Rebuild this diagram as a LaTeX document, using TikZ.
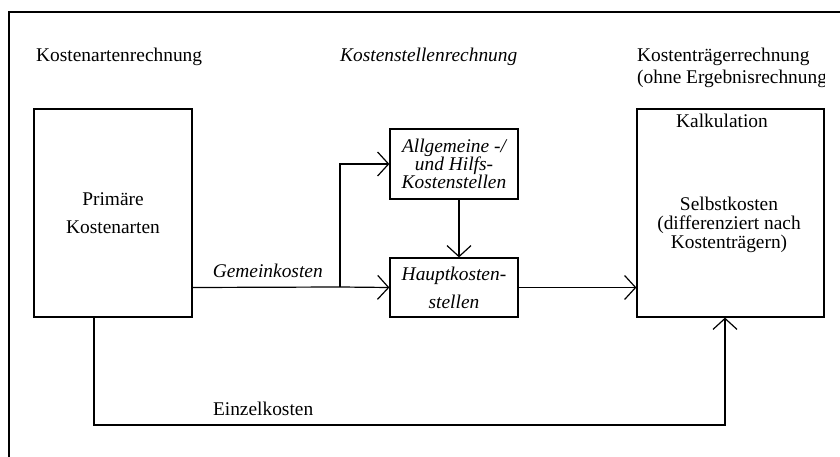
\documentclass[tikz,border=0pt]{standalone}
\usepackage{fontspec}
\setmainfont{Liberation Serif}
\usetikzlibrary{arrows.meta,positioning}

\tikzset{
  box/.style={draw, line width=1.2pt, inner sep=0pt, align=center},
  flow/.style={line width=1.2pt, -{Straight Barb[length=11pt,width=24pt]}},
  lbl/.style={inner sep=0pt, anchor=base west},
}

\begin{document}
\begin{tikzpicture}[x=1pt, y=-1pt, every node/.style={font=\fontsize{19.4}{18.5}\selectfont}]
        \useasboundingbox (0,0) rectangle (840,457);
        % Rahmen (rechts und unten abgeschnitten)
        \draw[line width=1.2pt] (840,12) -- (9,12) -- (9,457);

        % Ueberschriften
        \node[lbl] (kar_t) at (36,62) {Kostenartenrechnung};
        \node[lbl] (ksr_t) at (340,62) {\itshape Kostenstellenrechnung};
        \begin{scope}
          \clip (600,30) rectangle (824,100);
          \node[lbl] (ktr_t) at (637,62) {Kostenträgerrechnung};
          \node[lbl] (ktr_t2) at (637,83.5) {(ohne Ergebnisrechnung)};
        \end{scope}

        % Bloecke
        \node[box, minimum width=158pt, minimum height=208pt] (kar) at (113,213) {Primäre\\[10pt]Kostenarten};
        \node[box, minimum width=128pt, minimum height=70pt, font=\fontsize{19.4}{18}\selectfont\itshape] (allg) at (454,164) {Allgemeine -/\\und Hilfs-\\Kostenstellen};
        \node[box, minimum width=128pt, minimum height=59pt, font=\fontsize{19.4}{18}\selectfont\itshape] (haupt) at (454,287.5) {Hauptkosten-\\[10pt]stellen};
        \node[box, minimum width=187pt, minimum height=208pt] (ktr) at (730.5,213) {};
        \node[inner sep=0pt, anchor=base] (kalk) at (722,128) {Kalkulation};
        \node[inner sep=0pt, align=center, font=\fontsize{19.4}{19}\selectfont] (sk) at (729,225) {Selbstkosten\\(differenziert nach\\Kostenträgern)};

        % Verbindungen
        \coordinate (split) at (340,287);
        \coordinate (ek1) at (94,425);
        \coordinate (ek2) at (725,425);
        \draw[flow] (kar.east |- haupt.west) -- node[inner sep=0pt, anchor=base, yshift=9.3pt, pos=0.51] (gk) {\itshape Gemeinkosten} (split) -- (haupt.west);
        \draw[flow] (split) |- (allg.west);
        \draw[flow] ([xshift=5pt]allg.south) -- ([xshift=5pt]haupt.north);
        \draw[flow] (haupt.east) -- (haupt.east -| ktr.west);
        \draw[flow] (kar.south -| ek1) -- (ek1) -- node[inner sep=0pt, anchor=base, yshift=9.3pt, pos=0.268] (ek) {Einzelkosten} (ek2) -- (ktr.south -| ek2);
    \end{tikzpicture}
\end{document}
